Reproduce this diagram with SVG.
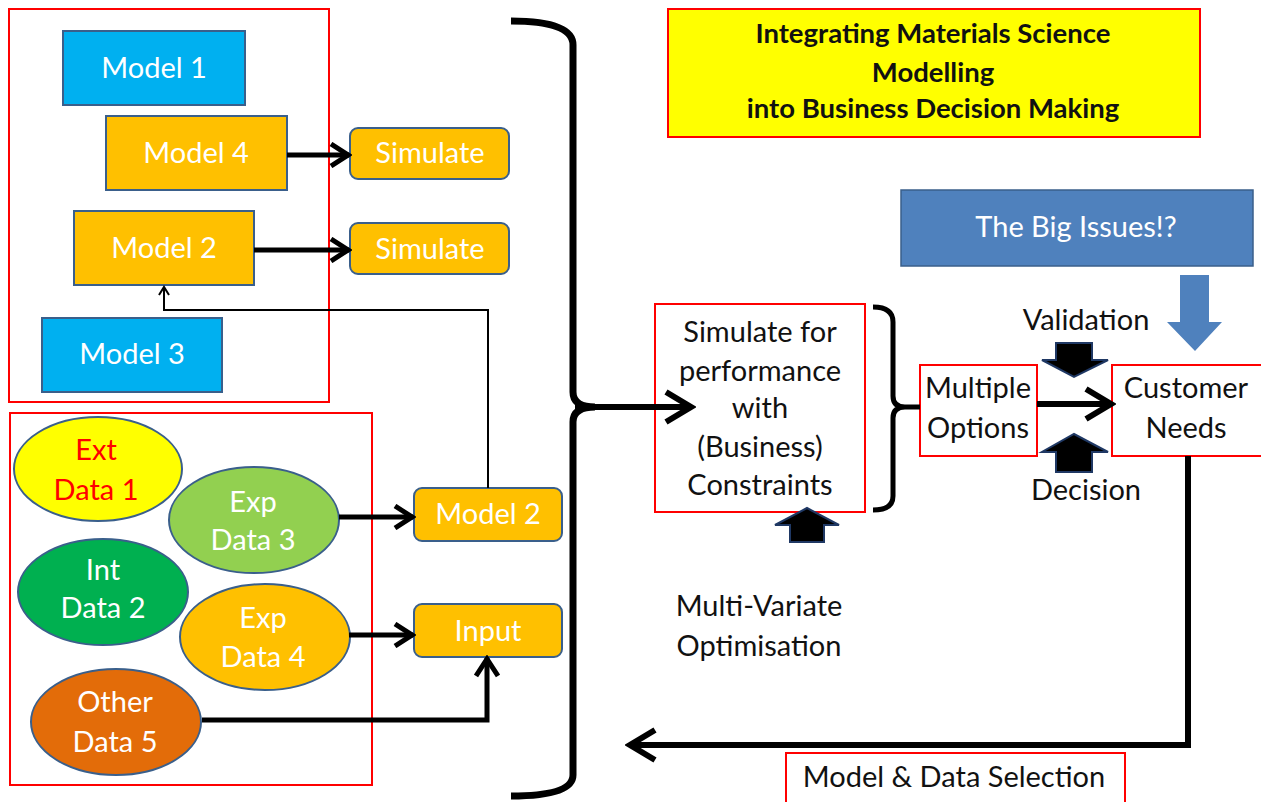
<svg xmlns="http://www.w3.org/2000/svg" width="1261" height="802" viewBox="0 0 1261 802">
<defs>
<style>
text{font-family:Lato,"Liberation Sans",sans-serif;font-size:29px;text-anchor:middle}
.w{fill:#fff}
.k{fill:#111}
.redbox{fill:none;stroke:#f00;stroke-width:2}
.wbox{fill:#fff;stroke:#f00;stroke-width:2}
.blue{fill:#00B0F0;stroke:#3A5F8B;stroke-width:2}
.orange{fill:#FFC000;stroke:#3A5F8B;stroke-width:2}
.ell{stroke:#3A5F8B;stroke-width:2}
.thick{fill:none;stroke:#000;stroke-width:5}
.thin{fill:none;stroke:#000;stroke-width:2}
.blk{fill:#000;stroke:#1F3864;stroke-width:2}
.ttl{font-size:27.5px;font-weight:bold}
</style>
<marker id="ah" markerUnits="userSpaceOnUse" viewBox="0 0 24 26" refX="21" refY="13" markerWidth="24" markerHeight="26" orient="auto">
<path d="M3,2 L20,13 L3,24" fill="none" stroke="#000" stroke-width="5"/>
</marker>
<marker id="ahL" markerUnits="userSpaceOnUse" viewBox="0 0 34 36" refX="30" refY="18" markerWidth="34" markerHeight="36" orient="auto">
<path d="M4,3 L29,18 L4,33" fill="none" stroke="#000" stroke-width="6"/>
</marker>
<marker id="ahS" markerUnits="userSpaceOnUse" viewBox="0 0 12 12" refX="10" refY="6" markerWidth="12" markerHeight="12" orient="auto">
<path d="M2,1 L10,6 L2,11" fill="none" stroke="#000" stroke-width="2"/>
</marker>
</defs>

<g id="group-models"><rect class="redbox" x="9" y="9" width="320" height="393"/></g>
<g id="group-data"><rect class="redbox" x="10" y="413" width="362" height="372"/></g>

<g id="title"><rect x="668" y="9" width="532" height="128" fill="#FFFF00" stroke="#f00" stroke-width="2"/>
<text x="933" y="43" class="k ttl">Integrating Materials Science</text>
<text x="933" y="82" class="k ttl">Modelling</text>
<text x="933" y="118" class="k ttl">into Business Decision Making</text></g>

<g id="model1"><rect class="blue" x="63" y="31" width="182" height="74"/><text class="w" x="154" y="78">Model 1</text></g>
<g id="model4"><rect class="orange" x="106" y="116" width="181" height="74"/><text class="w" x="196" y="163">Model 4</text></g>
<g id="model2"><rect class="orange" x="74" y="211" width="180" height="74"/><text class="w" x="164" y="258">Model 2</text></g>
<g id="model3"><rect class="blue" x="42" y="318" width="180" height="74"/><text class="w" x="132" y="364">Model 3</text></g>
<g id="simulate1"><rect class="orange" x="350" y="128" width="159" height="51" rx="8"/><text class="w" x="430" y="163">Simulate</text></g>
<g id="simulate2"><rect class="orange" x="350" y="223" width="159" height="51" rx="8"/><text class="w" x="430" y="259">Simulate</text></g>

<g id="ext-data1"><ellipse class="ell" cx="98" cy="469" rx="84" ry="52" fill="#FFFF00"/><text x="96" y="460" fill="#f00">Ext</text><text x="96" y="500" fill="#f00">Data 1</text></g>
<g id="exp-data3"><ellipse class="ell" cx="254" cy="520" rx="85" ry="53" fill="#92D050"/><text class="w" x="253" y="512">Exp</text><text class="w" x="253" y="550">Data 3</text></g>
<g id="int-data2"><ellipse class="ell" cx="103" cy="592" rx="85" ry="53" fill="#00B050"/><text class="w" x="103" y="580">Int</text><text class="w" x="103" y="618">Data 2</text></g>
<g id="exp-data4"><ellipse class="ell" cx="265" cy="637" rx="85" ry="53" fill="#FFC000"/><text class="w" x="263" y="628">Exp</text><text class="w" x="263" y="667">Data 4</text></g>
<g id="other-data5"><ellipse class="ell" cx="116" cy="722" rx="85" ry="53" fill="#E36C09"/><text class="w" x="115" y="712">Other</text><text class="w" x="115" y="752">Data 5</text></g>
<g id="model2b"><rect class="orange" x="414" y="488" width="148" height="53" rx="8"/><text class="w" x="488" y="524">Model 2</text></g>
<g id="input"><rect class="orange" x="414" y="604" width="148" height="53" rx="8"/><text class="w" x="488" y="641">Input</text></g>

<g id="simulate-performance"><rect class="wbox" x="655" y="304" width="210" height="208"/>
<text class="k" x="760" y="342">Simulate for</text>
<text class="k" x="760" y="381">performance</text>
<text class="k" x="760" y="418">with</text>
<text class="k" x="760" y="457">(Business)</text>
<text class="k" x="760" y="495">Constraints</text></g>

<g id="multiple-options"><rect class="wbox" x="920" y="365" width="117" height="91"/><text class="k" x="978" y="398">Multiple</text><text class="k" x="978" y="438">Options</text></g>
<g id="customer-needs"><rect class="wbox" x="1112" y="365" width="152" height="91"/><text class="k" x="1186" y="398">Customer</text><text class="k" x="1186" y="438">Needs</text></g>

<g id="big-issues"><rect x="901" y="190" width="352" height="76" fill="#4F81BD" stroke="#3A5F8B" stroke-width="1.5"/><text class="w" x="1076" y="237">The Big Issues!?</text>
<path d="M1180,275 H1209 V322 H1222 L1195,351 L1167,322 H1180 Z" fill="#4F81BD"/></g>

<g id="validation"><text class="k" x="1086" y="330">Validation</text>
<path class="blk" d="M1056,343 H1092 V360 H1108 L1074,377 L1042,360 H1056 Z"/></g>
<g id="decision"><path class="blk" d="M1056,472 H1092 V452 H1108 L1074,434 L1042,452 H1056 Z"/><text class="k" x="1086" y="500">Decision</text></g>

<g id="optimisation"><path class="blk" d="M790,542 H824 V525 H839 L807,508 L775,525 H790 Z"/>
<text class="k" x="759" y="616">Multi-Variate</text><text class="k" x="759" y="656">Optimisation</text></g>

<g id="selection"><rect class="wbox" x="786" y="753" width="339" height="60"/><text class="k" x="954" y="787">Model &amp; Data Selection</text></g>

<g id="connectors">
<path class="thick" d="M287,155 H349" marker-end="url(#ah)"/>
<path class="thick" d="M254,250 H349" marker-end="url(#ah)"/>
<path class="thick" d="M339,517 H413" marker-end="url(#ah)"/>
<path class="thick" d="M349,635 H413" marker-end="url(#ah)"/>
<path class="thick" d="M202,720 H487 V658" marker-end="url(#ah)"/>
<path class="thin" d="M488,488 V310 H164 V287" marker-end="url(#ahS)"/>
<path d="M511,21 Q573,21 573,45 V392 Q573,407 595,407 M595,407 Q573,407 573,422 V775 Q573,796 511,796" fill="none" stroke="#000" stroke-width="7"/>
<path d="M575,407 H692" fill="none" stroke="#000" stroke-width="6" marker-end="url(#ahL)"/>
<path d="M873,307 Q893,307 893,322 V396 Q893,407 905,407 H920 M905,407 Q893,407 893,418 V496 Q893,510 873,510" fill="none" stroke="#000" stroke-width="5"/>
<path d="M1037,404 H1112" fill="none" stroke="#000" stroke-width="6" marker-end="url(#ahL)"/>
<path d="M1188,456 V745 H629" fill="none" stroke="#000" stroke-width="6" marker-end="url(#ahL)"/>
</g>
</svg>
